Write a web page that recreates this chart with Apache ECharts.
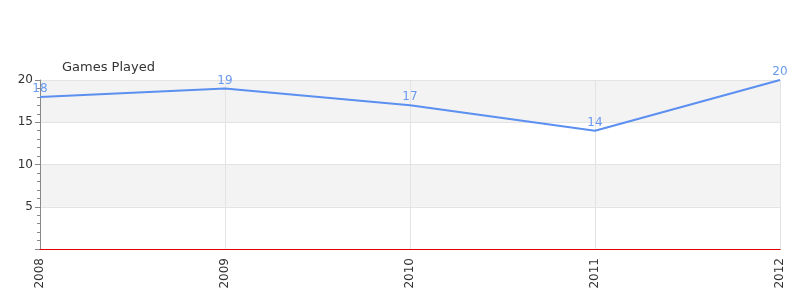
<!DOCTYPE html>
<html><head><meta charset="utf-8">
<script src="https://cdn.jsdelivr.net/npm/echarts@6/dist/echarts.min.js"></script>
<style>html,body{margin:0;padding:0;background:#fff}#c{width:800px;height:300px}</style>
</head><body><div id="c"></div>
<script>
var categories = ['2008','2009','2010','2011','2012'];
var gamesPlayed = [18, 19, 17, 14, 20];
var yTicks = [0, 5, 10, 15, 20];

var chart = echarts.init(document.getElementById('c'), null, {renderer:'canvas'});
chart.setOption({
  animation:false,
  title:{text:'Games Played', left:57, top:56, textStyle:{fontFamily:'DejaVu Sans', fontSize:13, fontWeight:'normal', color:'#333'}},
  grid:{left:40, right:20, top:80, bottom:51, containLabel:false},
  xAxis:[{
    type:'category', data:categories, boundaryGap:false, position:'bottom', offset:1,
    axisLine:{lineStyle:{color:'#555', width:1}},
    axisTick:{show:false},
    axisLabel:{rotate:90, color:'#333', fontFamily:'DejaVu Sans', fontSize:12, margin:8},
    splitLine:{show:true, lineStyle:{color:'#e3e3e3'}}
  },{
    type:'category', data:categories, boundaryGap:false, position:'bottom', offset:0, z:20,
    axisLine:{lineStyle:{color:'#e00000', width:1}},
    axisTick:{show:false},
    axisLabel:{show:false},
    splitLine:{show:false}
  }],
  yAxis:{
    type:'value', min:yTicks[0], max:yTicks[yTicks.length-1], interval:5,
    axisLine:{show:true, lineStyle:{color:'#888'}},
    axisTick:{show:true, length:5, lineStyle:{color:'#888'}},
    minorTick:{show:true, splitNumber:5, length:3, lineStyle:{color:'#888'}},
    axisLabel:{color:'#333', fontFamily:'DejaVu Sans', fontSize:12, margin:7,
      formatter:function(v){return v===0?'':String(v);}},
    splitLine:{show:true, lineStyle:{color:'#e3e3e3'}},
    splitArea:{show:true, areaStyle:{color:['#ffffff','#f3f3f3']}}
  },
  series:[{
    type:'line', data:gamesPlayed, xAxisIndex:0, showSymbol:true, symbol:'circle', symbolSize:0,
    lineStyle:{color:'#5b8ff0', width:2},
    itemStyle:{color:'#5b8ff0'},
    label:{show:true, position:'top', distance:2, color:'#6a9af0', fontFamily:'DejaVu Sans', fontSize:12}
  }]
});
</script></body></html>
